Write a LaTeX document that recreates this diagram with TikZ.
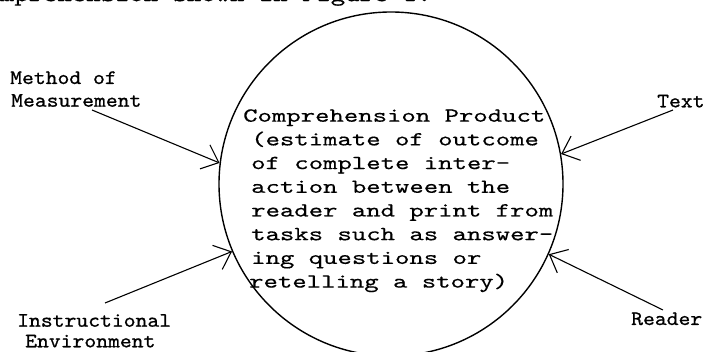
\documentclass[tikz,border=0pt]{standalone}
\usepackage{fontspec}
\usetikzlibrary{arrows.meta}
\newfontfamily\innerfont{lmmono10-regular}[Extension=.otf,FakeStretch=1.37,FakeBold=0.4]
\newfontfamily\labelfont{lmmono10-regular}[Extension=.otf,FakeStretch=1.1,FakeBold=0.8]
\begin{document}
\begin{tikzpicture}[x=1pt,y=-1pt,
  inner/.style={font=\innerfont\fontsize{20}{24}\selectfont, inner sep=0pt, anchor=base west},
  lab/.style={font=\labelfont\fontsize{20.5}{23}\selectfont, inner sep=0pt, anchor=base west},
  arr/.style={line width=1.1pt, -{Straight Barb[length=15pt,width=26pt]}}]
\useasboundingbox (0,0) rectangle (707,352);
\clip (0,0) rectangle (707,352);
\fill[white] (0,0) rectangle (707,352);
% cut-off line of the page above
\node[inner] (topline) at (-29,1.2) {comprehension shown in Figure 1.};
% circle
\node[circle, draw, line width=1.4pt, minimum size=344pt, inner sep=0pt] (prod) at (391,184) {};
% inner text
\node[inner] (p1) at (243,121.7) {Comprehension Product};
\node[inner] (p2) at (251,145.4) {(estimate of outcome};
\node[inner] (p3) at (251,169.1) {of complete inter-};
\node[inner] (p4) at (251,192.8) {action between the};
\node[inner] (p5) at (251,216.5) {reader and print from};
\node[inner] (p6) at (251,240.2) {tasks such as answer-};
\node[inner] (p7) at (251,263.9) {ing questions or};
\node[inner] (p8) at (249,287.6) {retelling a story)};
% labels
\node[lab] (m1) at (10,84) {Method of};
\node[lab] (m2) at (11,106.7) {Measurement};
\node[lab] (i1) at (17,326.7) {Instructional};
\node[lab] (i2) at (25,347.3) {Environment};
\node[lab] (t1) at (657,107.3) {Text};
\node[lab] (r1) at (631,325) {Reader};
% connectors
\coordinate (ms) at (92,110);
\coordinate (is) at (105,303);
\coordinate (ts) at (673,110);
\coordinate (rs) at (663,310);
\draw[arr] (ms) -- (prod.173.8);
\draw[arr] (is) -- (prod.203.3);
\draw[arr] (ts) -- (prod.10.2);
\draw[arr] (rs) -- (prod.336.9);
\end{tikzpicture}
\end{document}
